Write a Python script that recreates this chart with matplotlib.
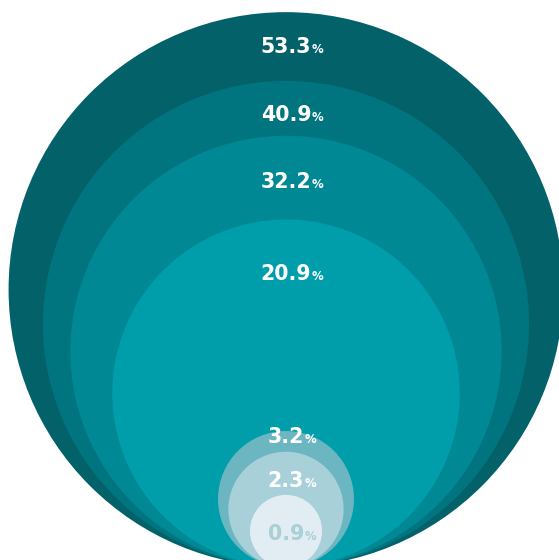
import numpy as np
import matplotlib.pyplot as plt
from matplotlib.patches import Circle

# shares shown as nested circles (area ~ value)
values = [53.3, 40.9, 32.2, 20.9, 3.2, 2.3, 0.9]
labels = ["53.3", "40.9", "32.2", "20.9", "3.2", "2.3", "0.9"]

# styling
colors = ["#03616a", "#00757f", "#008895", "#009dab", "#6cb6c2", "#a7d0d8", "#e1edf2"]
label_colors = ["white"] * 6 + ["#a9cfd7"]
# label baseline offset below each circle's top (px)
label_offset = [41, 40, 52, 60, 12, 35, 45]

W, H = 559, 560
scale = 38.0         # px per sqrt(unit)
cx, bottom = 286, 567

fig = plt.figure(figsize=(W / 100, H / 100), dpi=100)
ax = fig.add_axes([0, 0, 1, 1])
ax.set_xlim(0, W)
ax.set_ylim(H, 0)
ax.axis("off")

for v, c in zip(values, colors):
    r = scale * np.sqrt(v)
    ax.add_patch(Circle((cx, bottom - r), r, facecolor=c, edgecolor="none"))

for v, lab, lc, off in zip(values, labels, label_colors, label_offset):
    top = bottom - 2 * scale * np.sqrt(v)
    y = top + off
    t = ax.text(cx, y, lab, ha="center", va="baseline", color=lc,
                fontsize=14.8, fontweight="bold", family="DejaVu Sans")
    ax.annotate("%", xy=(1, y), xycoords=(t, "data"), xytext=(0.5, 0),
                textcoords="offset points", ha="left", va="baseline",
                color=lc, fontsize=8.5, fontweight="bold", family="DejaVu Sans")

fig.savefig("out.png", dpi=100)
